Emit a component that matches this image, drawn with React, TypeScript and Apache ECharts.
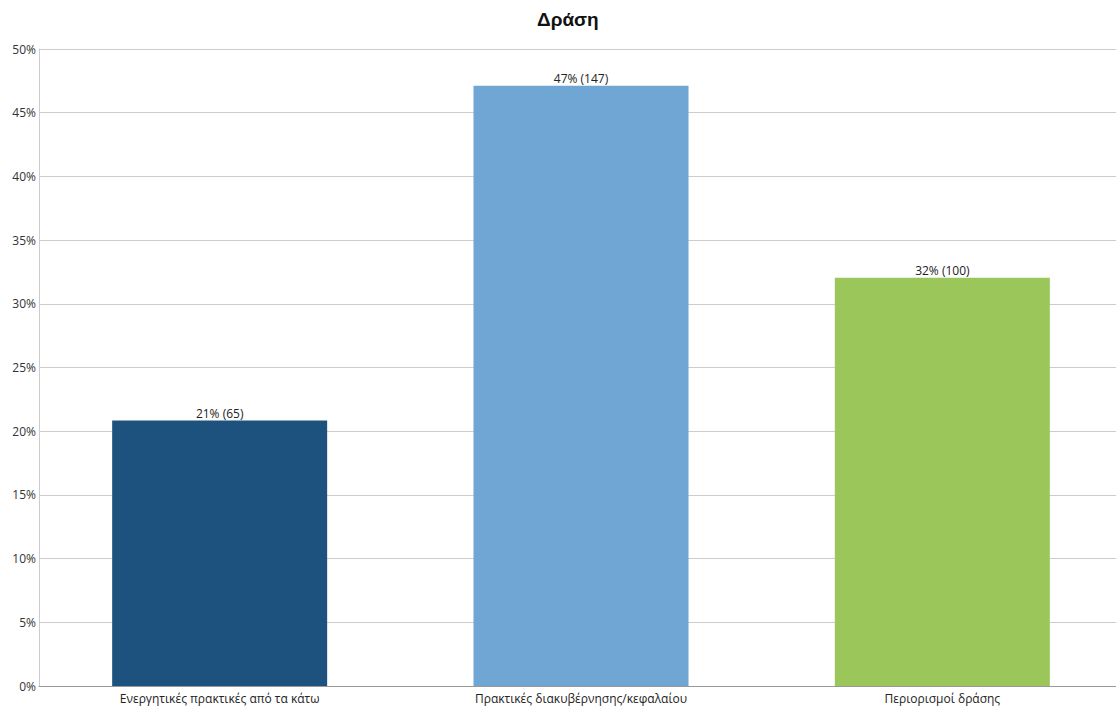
import React, { useEffect, useRef } from "react";
import * as echarts from "echarts";

const title = "Δράση";
const categories = [
  "Ενεργητικές πρακτικές από τα κάτω",
  "Πρακτικές διακυβέρνησης/κεφαλαίου",
  "Περιορισμοί δράσης",
];
const counts = [65, 147, 100];
const colors = ["#1E527E", "#6FA6D4", "#9BC65A"];
const yTicks = [0, 5, 10, 15, 20, 25, 30, 35, 40, 45, 50];

export default function App() {
  const ref = useRef<HTMLDivElement>(null);
  useEffect(() => {
    if (!ref.current) return;
    const chart = echarts.init(ref.current, undefined, { renderer: "svg" });
    const total = counts.reduce((a, b) => a + b, 0);
    const font = "'Open Sans', 'Noto Sans', sans-serif";
    chart.setOption({
      animation: false,
      title: {
        text: title,
        left: 532,
        top: 5,
        textStyle: { fontFamily: "Liberation Sans, Arial, sans-serif", fontSize: 19, fontWeight: "bold", color: "#111" },
      },
      grid: { left: 39, right: 0, top: 49, bottom: 21, containLabel: false },
      xAxis: {
        type: "category",
        data: categories,
        axisLine: { lineStyle: { color: "#999", width: 1 } },
        axisTick: { show: false },
        axisLabel: { fontFamily: font, fontSize: 12, color: "#222", margin: 6 },
      },
      yAxis: {
        type: "value",
        min: yTicks[0],
        max: yTicks[yTicks.length - 1],
        interval: 5,
        axisLine: { show: true, lineStyle: { color: "#ccc" } },
        axisTick: { show: false },
        splitLine: { lineStyle: { color: "#ccc" } },
        axisLabel: { fontFamily: font, fontSize: 12, color: "#333", margin: 3, formatter: "{value}%" },
      },
      series: [
        {
          type: "bar",
          barWidth: 215,
          data: counts.map((c, i) => ({
            value: (c / total) * 100,
            itemStyle: { color: colors[i] },
          })),
          label: {
            show: true,
            position: "top",
            distance: 1,
            fontFamily: font,
            fontSize: 12,
            color: "#222",
            formatter: (p: any) => `${Math.round(p.value)}% (${counts[p.dataIndex]})`,
          },
        },
      ],
    });
    return () => chart.dispose();
  }, []);
  return (
    <div style={{ position: "fixed", left: 0, top: 0, width: 1116, height: 707, overflow: "hidden", background: "#fff" }}>
      <div ref={ref} style={{ width: 1123, height: 707 }} />
    </div>
  );
}
